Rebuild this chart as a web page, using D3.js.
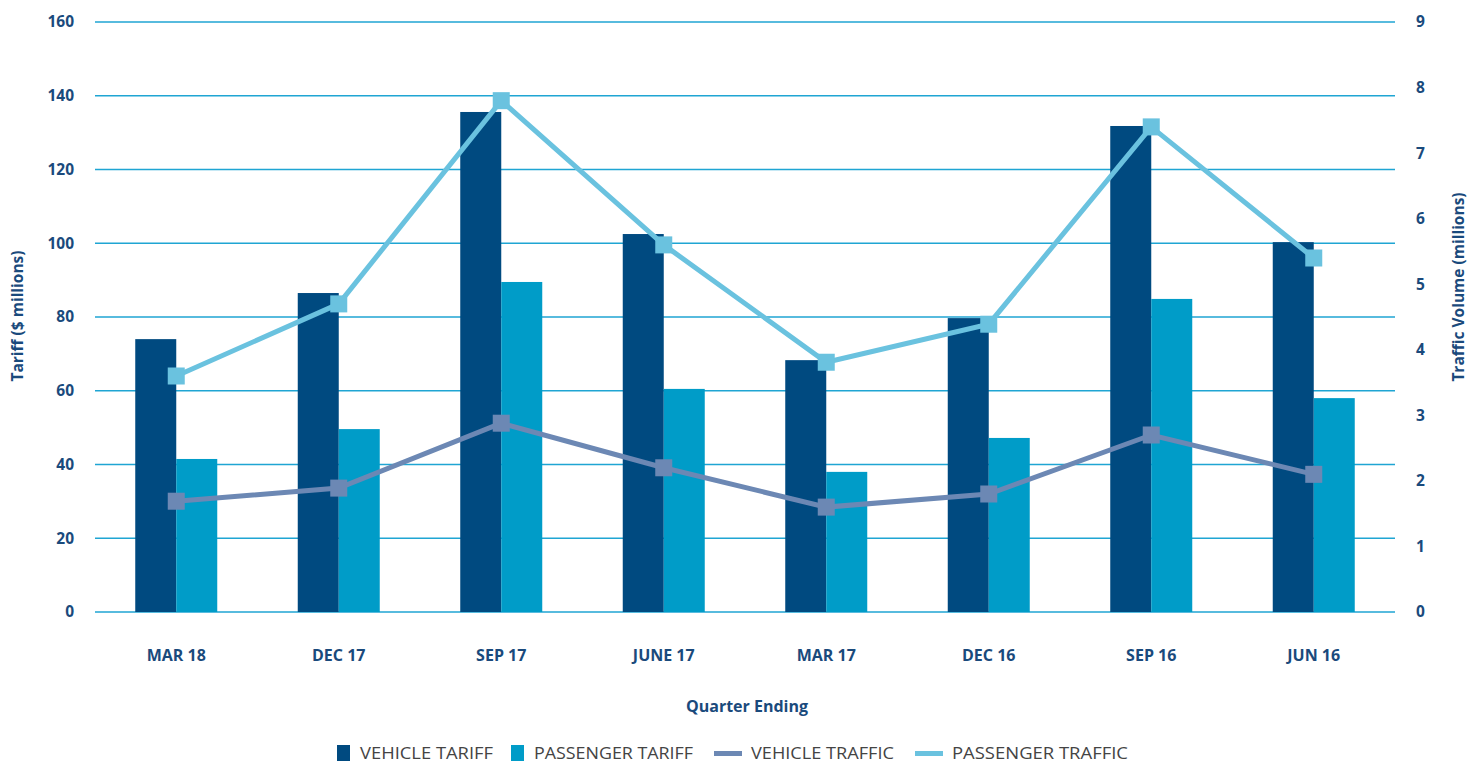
<!DOCTYPE html>
<html>
<head>
<meta charset="utf-8">
<script src="https://cdn.jsdelivr.net/npm/d3@7"></script>
<style>
  body { margin: 0; background: #fff; }
  svg text { font-family: "Open Sans", "Noto Sans", sans-serif; }
</style>
</head>
<body>
<div id="chart"></div>
<script>
// Quarters, left to right as in the original
var quarters = ['MAR 18', 'DEC 17', 'SEP 17', 'JUNE 17', 'MAR 17', 'DEC 16', 'SEP 16', 'JUN 16'];

// Tariff, $ millions (left axis)
var vehicleTariff = [74.0, 86.5, 135.6, 102.5, 68.3, 79.7, 131.8, 100.3];
var passengerTariff = [41.5, 49.6, 89.5, 60.5, 38.0, 47.2, 84.9, 58.0];

// Traffic volume, millions (right axis)
var vehicleTraffic = [1.69, 1.89, 2.88, 2.2, 1.6, 1.8, 2.7, 2.1];
var passengerTraffic = [3.6, 4.7, 7.8, 5.6, 3.81, 4.39, 7.4, 5.4];

var leftTicks = [0, 20, 40, 60, 80, 100, 120, 140, 160];
var rightTicks = [0, 1, 2, 3, 4, 5, 6, 7, 8, 9];

var legendNames = ['VEHICLE TARIFF', 'PASSENGER TARIFF', 'VEHICLE TRAFFIC', 'PASSENGER TRAFFIC'];

var navy = '#1a4a7c';
var colors = {
  vTariff: '#004a80',
  pTariff: '#009cc8',
  vTraffic: '#6c88b4',
  pTraffic: '#6ac2df',
  grid: '#1fa5d3'
};

var width = 1470, height = 763;
var margin = {top: 22, right: 75, bottom: 151, left: 95};
var plotW = width - margin.left - margin.right,
    plotH = height - margin.top - margin.bottom;

var svg = d3.select('#chart').append('svg')
  .attr('width', width)
  .attr('height', height);

var g = svg.append('g')
  .attr('transform', 'translate(' + margin.left + ',' + margin.top + ')');

// scales
var x = d3.scaleBand().domain(quarters).range([0, plotW]);
var inner = d3.scaleBand().domain(['v', 'p']).range([0, 82]);
var yL = d3.scaleLinear().domain([0, 160]).range([plotH, 0]);
var yR = d3.scaleLinear().domain([0, 9]).range([plotH, 0]);

// gridlines
g.selectAll('.grid')
  .data(leftTicks)
  .enter().append('line')
  .attr('x1', 0).attr('x2', plotW)
  .attr('y1', function(d) { return yL(d); })
  .attr('y2', function(d) { return yL(d); })
  .attr('stroke', colors.grid)
  .attr('stroke-width', 1.5);

// left axis
var leftAxis = g.append('g')
  .call(d3.axisLeft(yL).tickValues(leftTicks).tickSize(0).tickPadding(21));
leftAxis.select('.domain').remove();
leftAxis.selectAll('text')
  .attr('fill', navy)
  .style('font-size', '15.5px')
  .style('font-weight', 'bold');

// right axis
var rightAxis = g.append('g')
  .attr('transform', 'translate(' + plotW + ',0)')
  .call(d3.axisRight(yR).tickValues(rightTicks).tickSize(0).tickPadding(21));
rightAxis.select('.domain').remove();
rightAxis.selectAll('text')
  .attr('fill', navy)
  .style('font-size', '15.5px')
  .style('font-weight', 'bold');

// bars
quarters.forEach(function(q, i) {
  var x0 = x(q) + x.bandwidth() / 2 - 41;
  g.append('rect')
    .attr('x', x0 + inner('v'))
    .attr('y', yL(vehicleTariff[i]))
    .attr('width', inner.bandwidth())
    .attr('height', plotH - yL(vehicleTariff[i]))
    .attr('fill', colors.vTariff);
  g.append('rect')
    .attr('x', x0 + inner('p'))
    .attr('y', yL(passengerTariff[i]))
    .attr('width', inner.bandwidth())
    .attr('height', plotH - yL(passengerTariff[i]))
    .attr('fill', colors.pTariff);
});

// lines with square markers
function drawLine(values, color) {
  var line = d3.line()
    .x(function(d, i) { return x(quarters[i]) + x.bandwidth() / 2; })
    .y(function(d) { return yR(d); });

  g.append('path')
    .datum(values)
    .attr('d', line)
    .attr('fill', 'none')
    .attr('stroke', color)
    .attr('stroke-width', 5);

  g.selectAll(null)
    .data(values)
    .enter().append('rect')
    .attr('x', function(d, i) { return x(quarters[i]) + x.bandwidth() / 2 - 8.5; })
    .attr('y', function(d) { return yR(d) - 8.5; })
    .attr('width', 17)
    .attr('height', 17)
    .attr('fill', color);
}
drawLine(vehicleTraffic, colors.vTraffic);
drawLine(passengerTraffic, colors.pTraffic);

// category labels
g.selectAll('.cat')
  .data(quarters)
  .enter().append('text')
  .attr('x', function(d) { return x(d) + x.bandwidth() / 2; })
  .attr('y', plotH + 49)
  .attr('text-anchor', 'middle')
  .attr('fill', navy)
  .style('font-size', '16px')
  .style('font-weight', 'bold')
  .text(function(d) { return d; });

// axis titles
svg.append('text')
  .attr('x', 747).attr('y', 712)
  .attr('text-anchor', 'middle')
  .attr('fill', navy)
  .style('font-size', '16px')
  .style('font-weight', 'bold')
  .text('Quarter Ending');

svg.append('text')
  .attr('transform', 'translate(23,316) rotate(-90)')
  .attr('text-anchor', 'middle')
  .attr('fill', navy)
  .style('font-size', '15.5px')
  .style('font-weight', 'bold')
  .text('Tariff ($ millions)');

svg.append('text')
  .attr('transform', 'translate(1464,287) rotate(-90)')
  .attr('text-anchor', 'middle')
  .attr('fill', navy)
  .style('font-size', '15.5px')
  .style('font-weight', 'bold')
  .text('Traffic Volume (millions)');

// legend, keyed by where each item starts
var legendItems = [
  {name: legendNames[0], color: colors.vTariff, type: 'box', x: 337, w: 133},
  {name: legendNames[1], color: colors.pTariff, type: 'box', x: 511, w: 159},
  {name: legendNames[2], color: colors.vTraffic, type: 'line', x: 714, w: 143},
  {name: legendNames[3], color: colors.pTraffic, type: 'line', x: 915, w: 176}
];
legendItems.forEach(function(d) {
  var item = svg.append('g').attr('transform', 'translate(' + d.x + ',0)');
  var off;
  if (d.type == 'box') {
    item.append('rect').attr('x', 0).attr('y', 745).attr('width', 13).attr('height', 16).attr('fill', d.color);
    off = 23;
  } else {
    item.append('rect').attr('x', 0).attr('y', 751).attr('width', 28).attr('height', 5).attr('fill', d.color);
    off = 37;
  }
  item.append('text')
    .attr('x', off).attr('y', 759)
    .attr('fill', '#444')
    .attr('textLength', d.w)
    .attr('lengthAdjust', 'spacingAndGlyphs')
    .style('font-family', '"Liberation Sans Narrow", "Open Sans", sans-serif')
    .style('font-size', '17px')
    .text(d.name);
});
</script>
</body>
</html>
